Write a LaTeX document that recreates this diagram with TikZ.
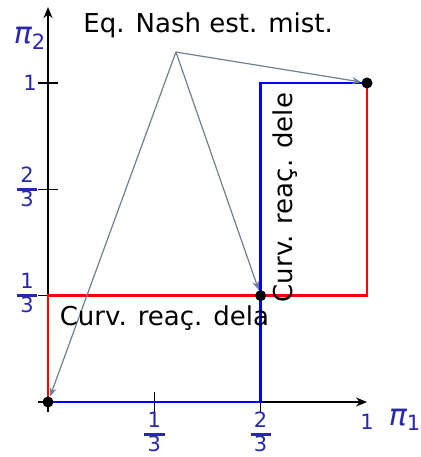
\documentclass[tikz,border=0pt]{standalone}
\usepackage{amsmath}
\usepackage{fontspec}
\setmainfont{DejaVu Sans}
\usetikzlibrary{arrows.meta, positioning}
\definecolor{ticklbl}{RGB}{40,40,170}
\definecolor{slate}{RGB}{112,128,144}
\newcommand{\fr}[2]{{\setlength{\arrayrulewidth}{1.5pt}\renewcommand{\arraystretch}{0.8}%
  \begin{tabular}{@{\,}c@{\,}}#1\\\hline #2\end{tabular}}}

\begin{document}
\begin{tikzpicture}[
      x=159.5pt, y=159.5pt,
      axis/.style={line width=1.3pt, -{Stealth[length=5.5pt, width=4.5pt]}},
      tick/.style={line width=0.6pt},
      lbl/.style={text=ticklbl, font=\fontsize{10.5}{12}\selectfont, inner sep=0pt},
      reacA/.style={red, line width=1.3pt},
      reacB/.style={blue, line width=1.3pt},
      eq/.style={circle, fill=black, inner sep=0pt, minimum size=5.5pt},
      arr/.style={slate, line width=0.6pt, -{Stealth[length=4.5pt, width=3.5pt]}},
      txt/.style={font=\fontsize{13}{15}\selectfont, inner sep=0pt}
    ]
    \useasboundingbox (-0.1505,-0.1724) rectangle (1.1661,1.2602);
    % axes
    \coordinate (o) at (0,0);
    \coordinate (xend) at (1,0);
    \coordinate (yend) at (0,1.238);
    \draw[axis] (o) -- (xend);
    \draw[axis] (o) -- (yend);
    \foreach \t in {0,1/3,2/3} \draw[tick] (\t,-0.031) -- (\t,0.031);
    \foreach \t in {0,1/3,2/3,1} \draw[tick] (-0.031,\t) -- (0.031,\t);
    % reaction curves
    \draw[reacA] (0,0) -- (0,1/3) -- (1,1/3) -- (1,1);
    \draw[reacB] (0,0) -- (2/3,0) -- (2/3,1) -- (1,1);
    % equilibria
    \node[eq] (eqA) at (0,0) {};
    \node[eq] (eqB) at (2/3,1/3) {};
    \node[eq] (eqC) at (1,1) {};
    \coordinate (top) at (0.401,1.097);
    \draw[arr] (top) -- (eqA);
    \draw[arr] (top) -- (eqB);
    \draw[arr] (top) -- (eqC);
    % labels
    \node[txt, anchor=base] (nash) at (0.502,1.157) {Eq. Nash est. mist.};
    \node[txt, anchor=base] (dela) at (0.365,0.241) {Curv. reaç. dela};
    \node[txt, anchor=base, rotate=90] (dele) at (0.765,0.641) {Curv. reaç. dele};
    \node[txt, text=ticklbl, font=\fontsize{15}{17}\selectfont] (pi1) at (1.119,-0.056) {$\text{\itshape π}_{\text{1}}$};
    \node[txt, text=ticklbl, font=\fontsize{15}{17}\selectfont] (pi2) at (-0.056,1.141) {$\text{\itshape π}_{\text{2}}$};
    \node[lbl] (x1) at (1/3,-0.103) {\fr{1}{3}};
    \node[lbl] (x2) at (2/3,-0.103) {\fr{2}{3}};
    \node[lbl] (x3) at (1,-0.063) {1};
    \node[lbl] (y1) at (-0.066,1/3) {\fr{1}{3}};
    \node[lbl] (y2) at (-0.066,2/3) {\fr{2}{3}};
    \node[lbl] (y3) at (-0.056,1) {1};
  \end{tikzpicture}
\end{document}
